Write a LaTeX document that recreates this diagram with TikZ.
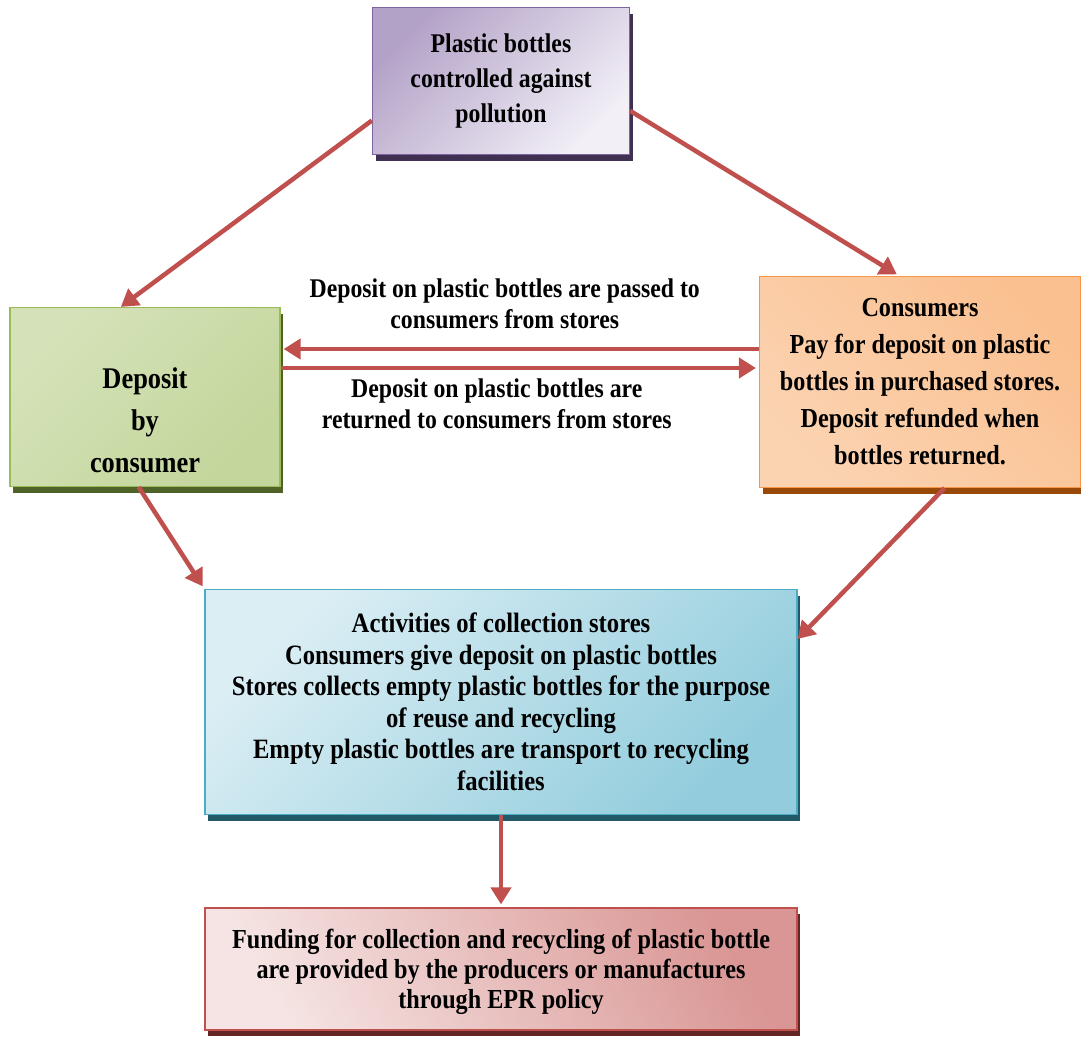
\documentclass[tikz,border=0pt]{standalone}
\usepackage{fontspec}
\setmainfont{Liberation Serif}[FakeStretch=0.88]
\usetikzlibrary{arrows.meta,shadows}

\definecolor{arrowred}{HTML}{C0504D}
\definecolor{purpledark}{HTML}{B3A2C7}
\definecolor{purplelight}{HTML}{F2EFF7}
\definecolor{purpleline}{HTML}{8064A2}
\definecolor{purpleshade}{HTML}{403152}
\definecolor{greendark}{HTML}{C3D69B}
\definecolor{greenlight}{HTML}{EBF1DE}
\definecolor{greenline}{HTML}{9BBB59}
\definecolor{greenshade}{HTML}{4F6228}
\definecolor{orangedark}{HTML}{FAC090}
\definecolor{orangelight}{HTML}{FDEADA}
\definecolor{orangeline}{HTML}{F79646}
\definecolor{orangeshade}{HTML}{984807}
\definecolor{bluedark}{HTML}{93CDDD}
\definecolor{bluelight}{HTML}{DBEEF4}
\definecolor{blueline}{HTML}{4BACC6}
\definecolor{blueshade}{HTML}{215968}
\definecolor{reddark}{HTML}{D99694}
\definecolor{redlight}{HTML}{F5E4E3}
\definecolor{redshade}{HTML}{632523}

\tikzset{
  box/.style={rectangle, line width=1.2pt, align=center, inner sep=0pt,
    font=\fontsize{27}{35}\selectfont\bfseries},
  flow/.style={draw=arrowred, line width=4.5pt, -{Triangle[length=17pt,width=20pt]}},
  lbl/.style={align=center, inner sep=0pt, font=\fontsize{27}{31}\selectfont\bfseries},
  purplebox/.style={box, draw=purpleline, top color=purpledark, bottom color=purplelight,
    shading angle=45, general shadow={fill=purpleshade, shadow xshift=3pt, shadow yshift=-6pt}},
  greenbox/.style={box, draw=greenline, top color=greendark!70, middle color=greenlight, bottom color=greendark,
    shading angle=45, general shadow={fill=greenshade, shadow xshift=3pt, shadow yshift=-6pt}},
  orangebox/.style={box, draw=orangeline, top color=orangedark, middle color=orangelight, bottom color=orangedark!70,
    shading angle=-45, general shadow={fill=orangeshade, shadow xshift=3pt, shadow yshift=-6pt}},
  bluebox/.style={box, draw=blueline, top color=bluelight, bottom color=bluedark,
    shading angle=45, general shadow={fill=blueshade, shadow xshift=3pt, shadow yshift=-6pt}},
  redbox/.style={box, draw=arrowred, top color=reddark, bottom color=redlight,
    shading angle=-60, general shadow={fill=redshade, shadow xshift=3pt, shadow yshift=-6pt}},
}

\begin{document}
\begin{tikzpicture}[x=1pt, y=-1pt]
  \useasboundingbox (0,0) rectangle (1081,1039);

  \node[purplebox, minimum width=257pt, minimum height=147pt] (pollution) at (501,81)
    {Plastic bottles\\controlled against\\pollution};
  \node[greenbox, minimum width=270pt, minimum height=179pt,
    font=\fontsize{30}{42}\selectfont\bfseries] (deposit) at (145,397)
    {\vphantom{X}\\[6pt]Deposit\\by\\consumer};
  \node[orangebox, minimum width=321pt, minimum height=211pt,
    font=\fontsize{27.5}{37}\selectfont\bfseries] (consumers) at (920,382)
    {Consumers\\Pay for deposit on plastic\\bottles in purchased stores.\\Deposit refunded when\\bottles returned.};
  \node[bluebox, minimum width=592pt, minimum height=225pt,
    font=\fontsize{28}{31.5}\selectfont\bfseries] (stores) at (501,702)
    {Activities of collection stores\\Consumers give deposit on plastic bottles\\Stores collects empty plastic bottles for the purpose\\of reuse and recycling\\Empty plastic bottles are transport to recycling\\facilities};
  \node[redbox, minimum width=592pt, minimum height=122pt,
    font=\fontsize{27.5}{30}\selectfont\bfseries] (funding) at (501,969)
    {\vphantom{X}\\[-22pt]Funding for collection and recycling of plastic bottle\\are provided by the producers or manufactures\\through EPR policy};

  \coordinate (passed) at ([yshift=33pt]consumers.west);
  \coordinate (returned) at ([yshift=14pt]consumers.west);

  \draw[flow] (pollution.197) -- (deposit.105);
  \draw[flow, shorten >=3pt] (pollution.-13) -- (consumers.101);
  \draw[flow, shorten >=3pt] (passed) -- (passed -| deposit.east)
    node[lbl, midway, above=18pt, xshift=-15pt] (passedtext) {Deposit on plastic bottles are passed to\\consumers from stores};
  \draw[flow, shorten >=3pt] (returned -| deposit.east) -- (returned)
    node[lbl, midway, below=9pt, xshift=-23pt] (returnedtext) {Deposit on plastic bottles are\\returned to consumers from stores};
  \draw[flow, shorten >=3pt] (deposit.266) -- (stores.north west);
  \draw[flow] (consumers.283) -- (stores.12);
  \draw[flow, shorten >=3pt] (stores.south) -- (funding.north);
\end{tikzpicture}
\end{document}
